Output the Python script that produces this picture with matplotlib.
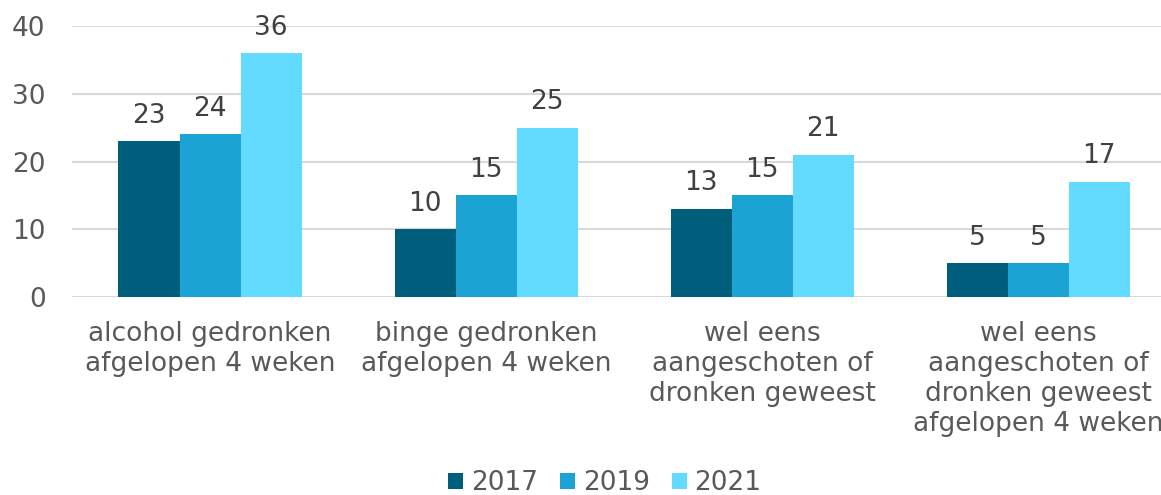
import numpy as np
import matplotlib
matplotlib.use("Agg")
import matplotlib.pyplot as plt

# Data
categories = [
    "alcohol gedronken\nafgelopen 4 weken",
    "binge gedronken\nafgelopen 4 weken",
    "wel eens\naangeschoten of\ndronken geweest",
    "wel eens\naangeschoten of\ndronken geweest\nafgelopen 4 weken",
]
years = ["2017", "2019", "2021"]
values_2017 = [23, 10, 13, 5]
values_2019 = [24, 15, 15, 5]
values_2021 = [36, 25, 21, 17]
colors = ["#005E7D", "#1BA3D3", "#63DAFF"]

plt.rcParams["font.family"] = "DejaVu Sans"

W, H = 1161, 495
fig = plt.figure(figsize=(W / 100, H / 100), dpi=100)
ax = fig.add_axes([72 / W, (H - 297) / H, 1104 / W, 271 / H])

x = np.arange(len(categories))
width = 61 / 276
series = [values_2017, values_2019, values_2021]
for i, (vals, year, col) in enumerate(zip(series, years, colors)):
    bars = ax.bar(x + (i - 1) * width, vals, width, color=col, label=year)
    for b, v in zip(bars, vals):
        ax.annotate(str(v), (b.get_x() + b.get_width() / 2, v),
                    xytext=(0, 9), textcoords="offset points",
                    ha="center", va="bottom", fontsize=19, color="#404040")

ax.set_xlim(-0.5, len(categories) - 0.5)
ax.set_ylim(0, 40)
ax.set_yticks([0, 10, 20, 30, 40])
ax.set_xticks(x)
ax.set_xticklabels(categories, fontsize=19, color="#595959", linespacing=1.2)
ax.tick_params(axis="y", labelsize=19, labelcolor="#595959", length=0, pad=19)
ax.tick_params(axis="x", length=0, pad=17)
ax.yaxis.grid(True, color="#D9D9D9", linewidth=1.5)
ax.set_axisbelow(True)
for s in ax.spines.values():
    s.set_visible(False)

fig.legend(loc="center", bbox_to_anchor=(605 / W, 1 - 483 / H), ncol=3,
           frameon=False, fontsize=19, handlelength=0.55, handleheight=0.55,
           handletextpad=0.3, columnspacing=0.85, labelcolor="#595959",
           borderpad=0)

fig.savefig("out.png", dpi=100)
